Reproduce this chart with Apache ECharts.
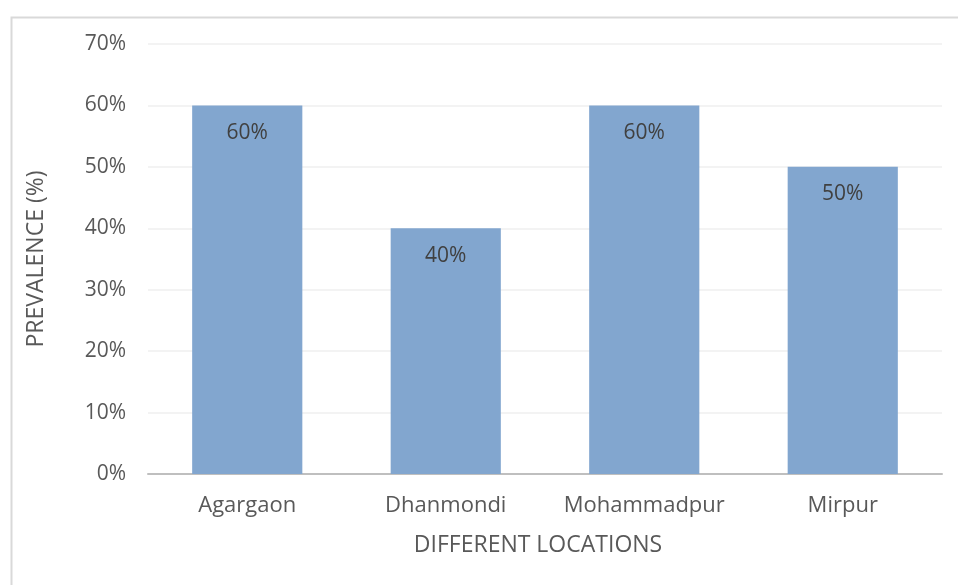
<!DOCTYPE html>
<html><head><meta charset="utf-8">
<script src="https://cdn.jsdelivr.net/npm/echarts@6/dist/echarts.min.js"></script>
<style>html,body{margin:0;padding:0;background:#fff}#c{width:958px;height:585px}</style>
</head><body><div id="c"></div>
<script>
const categories = ["Agargaon", "Dhanmondi", "Mohammadpur", "Mirpur"];
const prevalence = [60, 40, 60, 50];
const yTicks = [0, 10, 20, 30, 40, 50, 60, 70];

const chart = echarts.init(document.getElementById('c'));
const font = "'Open Sans', 'Noto Sans', sans-serif";
chart.setOption({
  animation: false,
  backgroundColor: '#fff',
  graphic: [{
    type: 'rect', left: 9, top: 15, silent: true,
    shape: { width: 960, height: 580 },
    style: { fill: 'none', stroke: '#D9D9D9', lineWidth: 2 }
  }],
  grid: { left: 148, right: 16, top: 44, bottom: 111, containLabel: false },
  xAxis: {
    type: 'category', data: categories,
    name: 'DIFFERENT LOCATIONS', nameLocation: 'middle', nameGap: 60,
    nameTextStyle: { color: '#595959', fontSize: 23, fontFamily: font, padding: [0, 14, 0, 0] },
    axisLine: { lineStyle: { color: '#BFBFBF', width: 2 } },
    axisTick: { show: false },
    axisLabel: { color: '#595959', fontSize: 22, fontFamily: font, margin: 21, interval: 0, hideOverlap: false }
  },
  yAxis: {
    type: 'value', min: yTicks[0], max: yTicks[yTicks.length - 1], interval: 10,
    name: 'PREVALENCE (%)', nameLocation: 'middle', nameGap: 100,
    nameTextStyle: { color: '#595959', fontSize: 23, fontFamily: font },
    axisLine: { show: false }, axisTick: { show: false },
    splitLine: { lineStyle: { color: '#EFEFEF', width: 1.5 } },
    axisLabel: { color: '#595959', fontSize: 21, fontFamily: font, margin: 22, formatter: v => v + '%' }
  },
  series: [{
    type: 'bar', data: prevalence, barWidth: '55.5%',
    itemStyle: { color: '#82A6CF' },
    label: { show: true, position: 'insideTop', distance: 17, color: '#404040', fontSize: 21, fontFamily: font, formatter: p => p.value + '%' }
  }]
});
</script></body></html>
